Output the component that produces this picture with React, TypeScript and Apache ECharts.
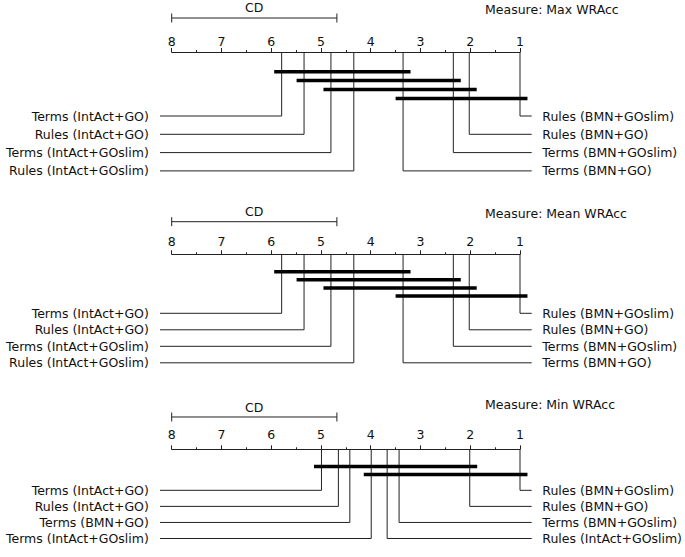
import React, { useEffect, useRef } from 'react';
import * as echarts from 'echarts';

const rankTicks = [1, 2, 3, 4, 5, 6, 7, 8];
const criticalDifference = 3.32;

const maxMeasure = 'Measure: Max WRAcc';
const maxLeftNames = ['Terms (IntAct+GO)', 'Rules (IntAct+GO)', 'Terms (IntAct+GOslim)', 'Rules (IntAct+GOslim)'];
const maxLeftRanks = [5.79, 5.34, 4.8, 4.34];
const maxRightNames = ['Rules (BMN+GOslim)', 'Rules (BMN+GO)', 'Terms (BMN+GOslim)', 'Terms (BMN+GO)'];
const maxRightRanks = [1.0, 2.02, 2.34, 3.35];
const maxCliques = [[5.79, 3.35], [5.34, 2.34], [4.8, 2.02], [3.35, 1.0]];

const meanMeasure = 'Measure: Mean WRAcc';
const meanLeftNames = ['Terms (IntAct+GO)', 'Rules (IntAct+GO)', 'Terms (IntAct+GOslim)', 'Rules (IntAct+GOslim)'];
const meanLeftRanks = [5.79, 5.34, 4.8, 4.34];
const meanRightNames = ['Rules (BMN+GOslim)', 'Rules (BMN+GO)', 'Terms (BMN+GOslim)', 'Terms (BMN+GO)'];
const meanRightRanks = [1.0, 2.02, 2.34, 3.35];
const meanCliques = [[5.79, 3.35], [5.34, 2.34], [4.8, 2.02], [3.35, 1.0]];

const minMeasure = 'Measure: Min WRAcc';
const minLeftNames = ['Terms (IntAct+GO)', 'Rules (IntAct+GO)', 'Terms (BMN+GO)', 'Terms (IntAct+GOslim)'];
const minLeftRanks = [4.99, 4.65, 4.42, 3.99];
const minRightNames = ['Rules (BMN+GOslim)', 'Rules (BMN+GO)', 'Terms (BMN+GOslim)', 'Rules (IntAct+GOslim)'];
const minRightRanks = [1.0, 2.01, 3.43, 3.67];
const minCliques = [[4.99, 2.01], [3.99, 1.0]];

const FONT = 'DejaVu Sans';
const FS = 12.5;
const GRID_LEFT = 171.7;
const GRID_WIDTH = 348.3;
const BAR_EXT = 0.15;

const layouts = [
  { axisY: 52, barTop: 19.7, barGap: 8.9, rowTop: 64, rowGap: 18.3, cdBar: -34, cdText: -44.5, titleY: 10, labelMargin: 4.5 },
  { axisY: 254.3, barTop: 17.4, barGap: 8.1, rowTop: 59, rowGap: 16.5, cdBar: -32.6, cdText: -43.3, titleY: 214, labelMargin: 6.5 },
  { axisY: 449.3, barTop: 19.2, barGap: 9, rowTop: 45.7, rowGap: 17.9, cdBar: -36, cdText: -46.6, titleY: 405, labelMargin: 8 },
];

const panels = [
  { measure: maxMeasure, leftNames: maxLeftNames, leftRanks: maxLeftRanks, rightNames: maxRightNames, rightRanks: maxRightRanks, cliques: maxCliques },
  { measure: meanMeasure, leftNames: meanLeftNames, leftRanks: meanLeftRanks, rightNames: meanRightNames, rightRanks: meanRightRanks, cliques: meanCliques },
  { measure: minMeasure, leftNames: minLeftNames, leftRanks: minLeftRanks, rightNames: minRightNames, rightRanks: minRightRanks, cliques: minCliques },
];

function buildOption() {
  const series: any[] = [];
  panels.forEach((p, i) => {
    const L = layouts[i];
    const sideSeries = (names: string[], ranks: number[], left: boolean) => ({
      type: 'custom',
      xAxisIndex: i,
      yAxisIndex: i,
      clip: false,
      silent: true,
      data: ranks.map((r, j) => [r, j]),
      renderItem: (params: any, api: any) => {
        const j = params.dataIndex;
        const rank = api.value(0);
        const yRow = L.rowTop + j * L.rowGap;
        const top = api.coord([rank, 0]);
        const bottom = api.coord([rank, yRow]);
        const edge = api.coord([left ? 8 : 1, yRow]);
        const xEnd = left ? edge[0] - 11.7 : edge[0] + 11.7;
        return {
          type: 'group',
          children: [
            {
              type: 'polyline',
              shape: { points: [top, bottom, [xEnd, bottom[1]]] },
              style: { stroke: '#222', lineWidth: 1, fill: 'none' },
            },
            {
              type: 'text',
              style: {
                text: names[j],
                x: left ? xEnd - 11.2 : xEnd + 10.6,
                y: bottom[1],
                align: left ? 'right' : 'left',
                verticalAlign: 'middle',
                fontSize: FS,
                fontFamily: FONT,
                fill: '#111',
              },
            },
          ],
        };
      },
    });
    series.push(sideSeries(p.leftNames, p.leftRanks, true));
    series.push(sideSeries(p.rightNames, p.rightRanks, false));
    series.push({
      type: 'custom',
      xAxisIndex: i,
      yAxisIndex: i,
      clip: false,
      silent: true,
      data: p.cliques.map((c) => [c[0], c[1]]),
      renderItem: (params: any, api: any) => {
        const j = params.dataIndex;
        const y = L.barTop + j * L.barGap;
        const a = api.coord([api.value(0) + BAR_EXT, y]);
        const b = api.coord([api.value(1) - BAR_EXT, y]);
        return {
          type: 'line',
          shape: { x1: a[0], y1: a[1], x2: b[0], y2: b[1] },
          style: { stroke: '#000', lineWidth: 3.5 },
        };
      },
    });
    series.push({
      type: 'custom',
      xAxisIndex: i,
      yAxisIndex: i,
      clip: false,
      silent: true,
      data: [[8, 8 - criticalDifference]],
      renderItem: (params: any, api: any) => {
        const a = api.coord([api.value(0), L.cdBar]);
        const b = api.coord([api.value(1), L.cdBar]);
        const t = api.coord([(api.value(0) + api.value(1)) / 2, L.cdText]);
        const st = { stroke: '#222', lineWidth: 1 };
        return {
          type: 'group',
          children: [
            { type: 'line', shape: { x1: a[0], y1: a[1], x2: b[0], y2: b[1] }, style: st },
            { type: 'line', shape: { x1: a[0], y1: a[1] - 4.5, x2: a[0], y2: a[1] + 4.5 }, style: st },
            { type: 'line', shape: { x1: b[0], y1: b[1] - 4.5, x2: b[0], y2: b[1] + 4.5 }, style: st },
            {
              type: 'text',
              style: { text: 'CD', x: t[0], y: t[1], align: 'center', verticalAlign: 'middle', fontSize: FS, fontFamily: FONT, fill: '#111' },
            },
          ],
        };
      },
    });
  });

  return {
    animation: false,
    backgroundColor: '#fff',
    title: panels.map((p, i) => ({
      text: p.measure,
      left: 485,
      top: layouts[i].titleY - 7.5,
      padding: 0,
      textStyle: { fontSize: FS, fontWeight: 'normal', fontFamily: FONT, color: '#111' },
    })),
    grid: layouts.map((L) => ({ left: GRID_LEFT, width: GRID_WIDTH, top: L.axisY, height: 120 })),
    xAxis: layouts.map((L, i) => ({
      type: 'value',
      gridIndex: i,
      min: 1,
      max: 8,
      interval: 1,
      inverse: true,
      position: 'top',
      axisLine: { show: true, onZero: false, lineStyle: { color: '#222', width: 1 } },
      axisTick: { show: true, inside: false, length: 4, lineStyle: { color: '#222', width: 1 } },
      minorTick: { show: true, splitNumber: 2, length: 2, lineStyle: { color: '#222', width: 1 } },
      axisLabel: {
        margin: L.labelMargin,
        fontSize: FS,
        fontFamily: FONT,
        color: '#111',
        formatter: (v: number) => (rankTicks.includes(v) ? String(v) : ''),
      },
      splitLine: { show: false },
      minorSplitLine: { show: false },
    })),
    yAxis: layouts.map((L, i) => ({ type: 'value', gridIndex: i, min: 0, max: 120, inverse: true, show: false })),
    series,
  };
}

export default function App() {
  const ref = useRef<HTMLDivElement>(null);
  useEffect(() => {
    if (!ref.current) return;
    const chart = echarts.init(ref.current, undefined, { renderer: 'svg' });
    chart.setOption(buildOption() as any);
    return () => chart.dispose();
  }, []);
  return <div ref={ref} style={{ position: 'fixed', left: 0, top: 0, width: 685, height: 557 }} />;
}
